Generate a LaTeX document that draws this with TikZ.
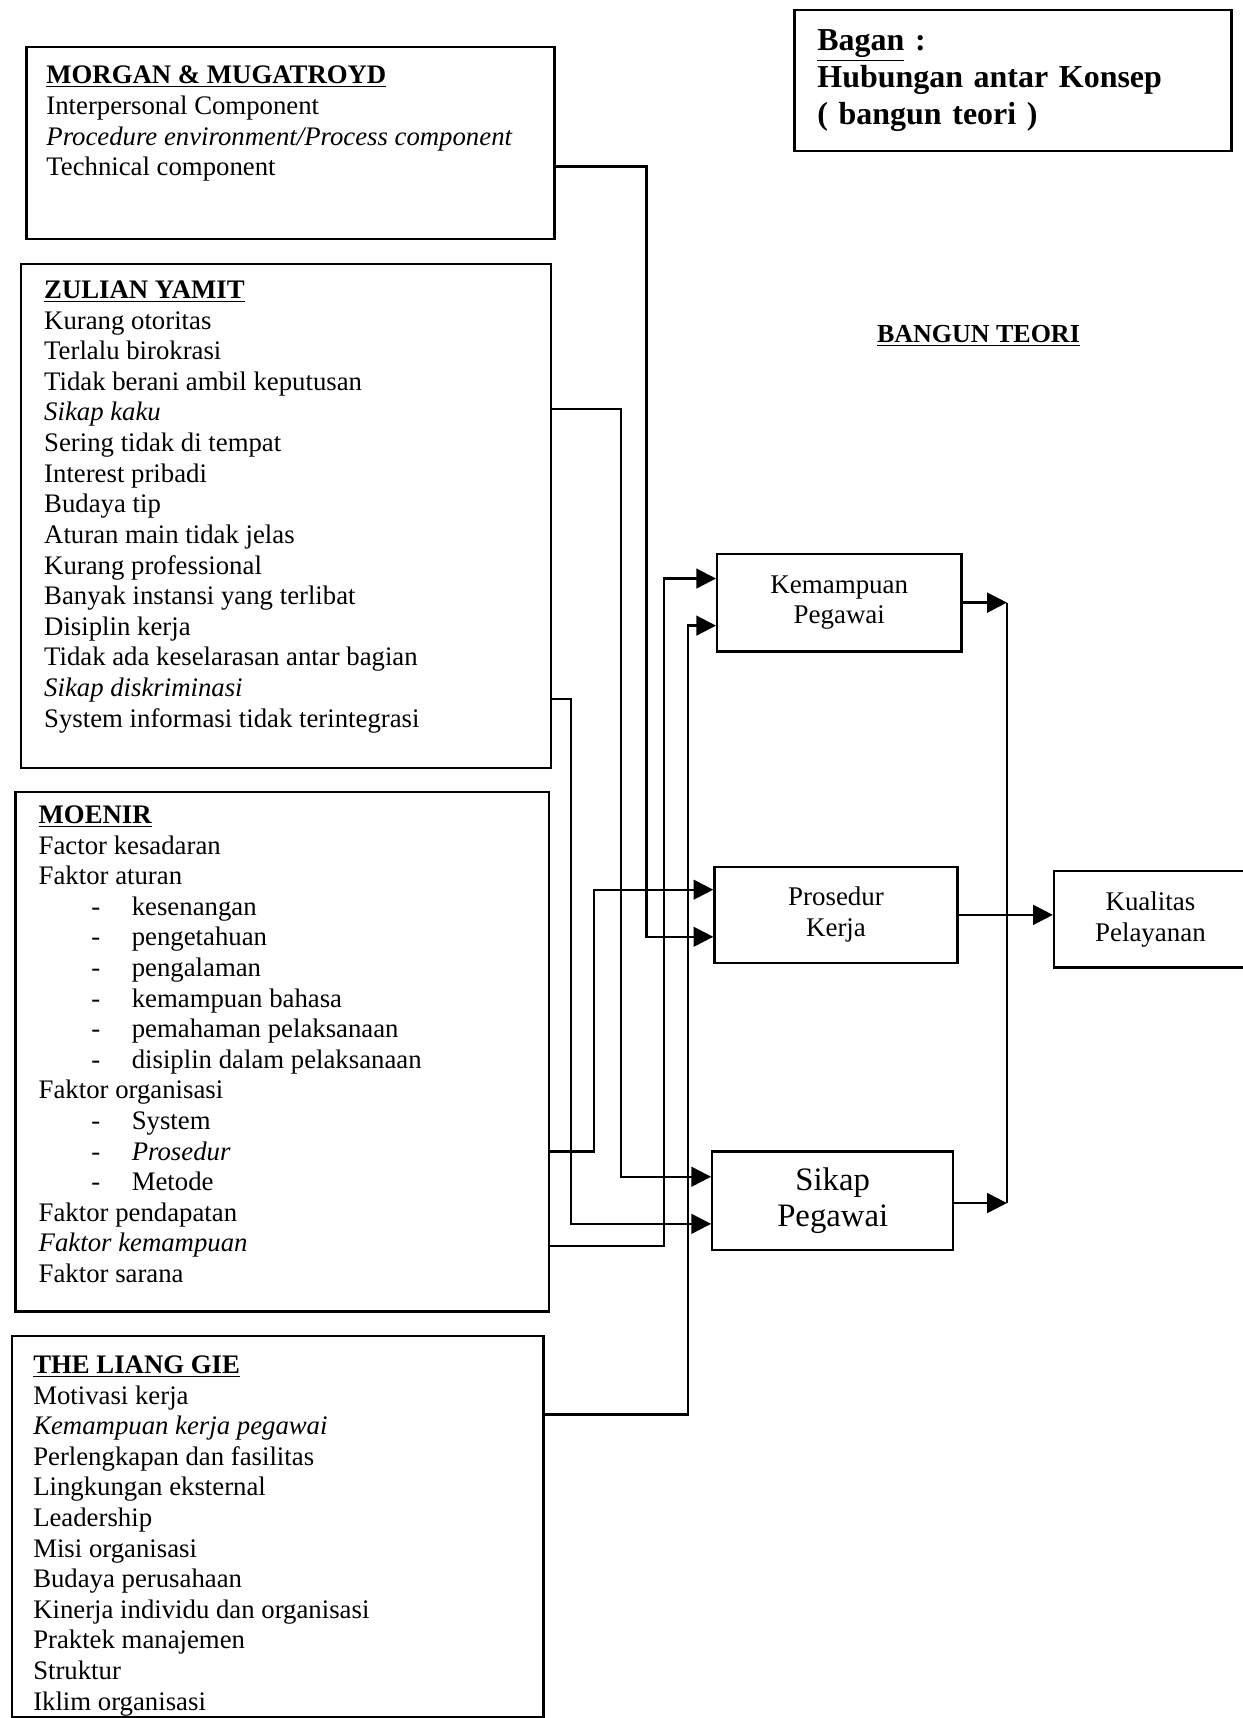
\documentclass[tikz,border=0pt]{standalone}
\usepackage{fontspec}
\setmainfont{Liberation Serif}
\usepackage{tikz}
\usetikzlibrary{arrows.meta,positioning,calc}
\tikzstyle{srcbox} = [rectangle, draw=black, line width=1.2pt, anchor=north west]
\tikzstyle{srctext} = [anchor=north west, inner sep=0pt, align=left, font=\fontsize{13.9}{15.9}\selectfont]
\tikzstyle{varbox} = [rectangle, draw=black, line width=1.2pt, align=center, font=\fontsize{14}{16}\selectfont]
\tikzstyle{arrow} = [line width=1.2pt, -{Triangle[length=3.6mm, width=3.6mm]}]
\tikzstyle{link} = [line width=1.2pt]
\newcommand{\itm}[1]{\hspace*{0.96cm}\makebox[0.74cm][l]{-}#1}

\begin{document}
\begin{tikzpicture}[x=0.02cm, y=-0.02cm]
    \useasboundingbox (0,0) rectangle (1134,1568);

    % judul
    \node[rectangle, draw, line width=1.2pt, anchor=north west, minimum width=7.98cm, minimum height=2.58cm,
          text width=7.14cm, inner xsep=0.42cm, align=left, font=\fontsize{16.6}{19.3}\selectfont\bfseries]
          (bagan) at (724,8) {\underline{Bagan} :\\Hubungan antar Konsep\\( bangun teori )};
    \node[font=\fontsize{13.5}{16}\selectfont\bfseries] (bangun) at (893,307) {\underline{BANGUN TEORI}};

    % kotak sumber
    \node[srcbox, minimum width=9.64cm, minimum height=3.5cm] (morgan) at (23,42) {};
    \node[srctext] (morgantxt) at (42,60) {\underline{\textbf{MORGAN \& MUGATROYD}}\\
        Interpersonal Component\\
        \textit{Procedure environment/Process component}\\
        Technical component};

    \node[srcbox, minimum width=9.68cm, minimum height=9.2cm] (zulian) at (18,240) {};
    \node[srctext] (zuliantxt) at (40,256) {\underline{\textbf{ZULIAN YAMIT}}\\
        Kurang otoritas\\
        Terlalu birokrasi\\
        Tidak berani ambil keputusan\\
        \textit{Sikap kaku}\\
        Sering tidak di tempat\\
        Interest pribadi\\
        Budaya tip\\
        Aturan main tidak jelas\\
        Kurang professional\\
        Banyak instansi yang terlibat\\
        Disiplin kerja\\
        Tidak ada keselarasan antar bagian\\
        \textit{Sikap diskriminasi}\\
        System informasi tidak terintegrasi};

    \node[srcbox, minimum width=9.74cm, minimum height=9.48cm] (moenir) at (13,722) {};
    \node[srctext] (moenirtxt) at (35,735) {\underline{\textbf{MOENIR}}\\
        Factor kesadaran\\
        Faktor aturan\\
        \itm{kesenangan}\\
        \itm{pengetahuan}\\
        \itm{pengalaman}\\
        \itm{kemampuan bahasa}\\
        \itm{pemahaman pelaksanaan}\\
        \itm{disiplin dalam pelaksanaan}\\
        Faktor organisasi\\
        \itm{System}\\
        \itm{\textit{Prosedur}}\\
        \itm{Metode}\\
        Faktor pendapatan\\
        \textit{Faktor kemampuan}\\
        Faktor sarana};

    \node[srcbox, minimum width=9.7cm, minimum height=6.96cm] (liang) at (10,1218) {};
    \node[srctext] (liangtxt) at (30,1237) {\underline{\textbf{THE LIANG GIE}}\\
        Motivasi kerja\\
        \textit{Kemampuan kerja pegawai}\\
        Perlengkapan dan fasilitas\\
        Lingkungan eksternal\\
        Leadership\\
        Misi organisasi\\
        Budaya perusahaan\\
        Kinerja individu dan organisasi\\
        Praktek manajemen\\
        Struktur\\
        Iklim organisasi};

    % variabel
    \node[varbox, minimum width=4.46cm, minimum height=1.78cm] (kemampuan) at (766,550) {Kemampuan\\Pegawai};
    \node[varbox, minimum width=4.44cm, minimum height=1.76cm] (prosedur) at (763,835) {Prosedur\\Kerja};
    \node[varbox, minimum width=4.4cm, minimum height=1.8cm, font=\fontsize{17}{19}\selectfont] (sikap) at (760,1096) {Sikap\\Pegawai};
    \node[varbox, minimum width=3.52cm, minimum height=1.76cm] (kualitas) at (1050,839) {Kualitas\\Pelayanan};

    \coordinate (jointop) at (919,550);
    \coordinate (joinbot) at (919,1098);

    % penghubung
    \draw[arrow] (morgan.east |- 0,152) -| (590,855) -- (prosedur.west |- 0,855);
    \draw[arrow] (zulian.east |- 0,373) -| (567,1074) -- (sikap.west |- 0,1074);
    \draw[arrow] (zulian.east |- 0,638) -| (521,1117) -- (sikap.west |- 0,1117);
    \draw[arrow] (moenir.east |- 0,1051) -| (542,812) -- (prosedur.west |- 0,812);
    \draw[arrow] (moenir.east |- 0,1137) -| (606,528) -- (kemampuan.west |- 0,528);
    \draw[arrow] (liang.east |- 0,1291) -| (628,571) -- (kemampuan.west |- 0,571);

    \draw[arrow] (kemampuan.east) -- (jointop);
    \draw[arrow] (sikap.east |- joinbot) -- (joinbot);
    \draw[link] (jointop) -- (joinbot);
    \draw[arrow] (prosedur.east) -- (kualitas.west |- prosedur.east);
\end{tikzpicture}
\end{document}
